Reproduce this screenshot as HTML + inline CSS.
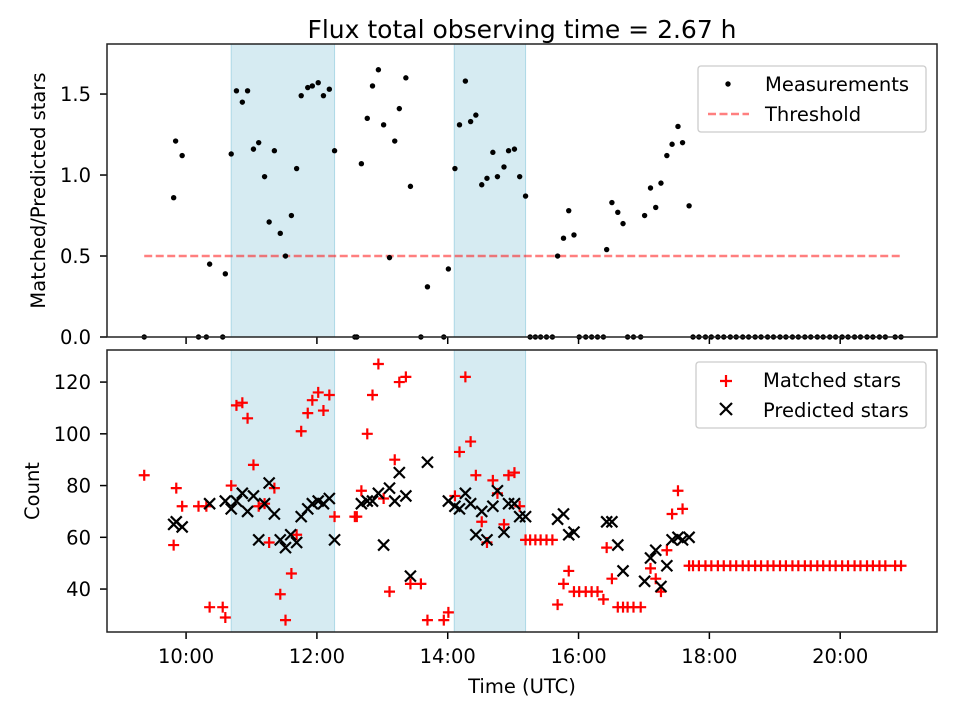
<!DOCTYPE html>
<html><head><meta charset="utf-8"><style>
body{margin:0;background:#fff}
svg{font-family:"DejaVu Sans","Liberation Sans",sans-serif}
</style></head><body>
<svg id="chart" width="960" height="720" viewBox="0 0 960 720" xmlns="http://www.w3.org/2000/svg"></svg>
<script>
// ---- data ----
const ratioTimes=[9.36,9.81,9.84,9.94,10.19,10.31,10.36,10.56,10.60,10.69,10.77,10.86,10.94,11.03,11.11,11.20,11.27,11.35,11.44,11.52,11.61,11.69,11.76,11.86,11.93,12.02,12.10,12.19,12.27,12.58,12.61,12.68,12.77,12.85,12.94,13.02,13.11,13.19,13.26,13.36,13.43,13.59,13.69,13.94,14.01,14.11,14.18,14.27,14.35,14.43,14.52,14.60,14.69,14.76,14.86,14.93,15.02,15.10,15.19,15.26,15.34,15.42,15.51,15.60,15.68,15.77,15.85,15.93,16.01,16.11,16.20,16.29,16.38,16.43,16.51,16.60,16.68,16.75,16.84,16.95,17.01,17.10,17.18,17.26,17.35,17.43,17.52,17.59,17.69,17.75,17.84,17.94,18.03,18.13,18.22,18.32,18.41,18.51,18.60,18.70,18.79,18.89,18.98,19.08,19.17,19.27,19.36,19.46,19.55,19.65,19.74,19.84,19.93,20.03,20.12,20.22,20.31,20.41,20.50,20.60,20.69,20.84,20.93];
const ratioValues=[0,0.86,1.21,1.12,0,0,0.45,0,0.39,1.13,1.52,1.45,1.52,1.16,1.20,0.99,0.71,1.15,0.64,0.50,0.75,1.04,1.49,1.54,1.55,1.57,1.49,1.53,1.15,0,0,1.07,1.35,1.55,1.65,1.31,0.49,1.21,1.41,1.60,0.93,0,0.31,0,0.42,1.04,1.31,1.58,1.33,1.37,0.94,0.98,1.14,0.99,1.05,1.15,1.16,0.99,0.87,0,0,0,0,0,0.50,0.61,0.78,0.63,0,0,0,0,0,0.54,0.83,0.77,0.70,0,0,0,0.75,0.92,0.80,0.95,1.12,1.19,1.30,1.20,0.81,0,0,0,0,0,0,0,0,0,0,0,0,0,0,0,0,0,0,0,0,0,0,0,0,0,0,0,0,0,0,0,0,0,0];
const matchedTimes=[9.36,9.81,9.85,9.94,10.19,10.31,10.36,10.56,10.60,10.69,10.77,10.86,10.94,11.03,11.11,11.20,11.27,11.35,11.44,11.52,11.61,11.69,11.76,11.86,11.93,12.02,12.10,12.19,12.27,12.58,12.61,12.68,12.77,12.85,12.94,13.02,13.11,13.19,13.26,13.36,13.43,13.59,13.69,13.94,14.01,14.11,14.18,14.27,14.35,14.43,14.52,14.60,14.69,14.76,14.86,14.93,15.02,15.10,15.19,15.26,15.34,15.42,15.51,15.60,15.68,15.77,15.85,15.93,16.01,16.11,16.20,16.29,16.38,16.43,16.51,16.60,16.68,16.75,16.84,16.95,17.10,17.18,17.26,17.35,17.43,17.52,17.59,17.69,17.75,17.84,17.94,18.03,18.13,18.22,18.32,18.41,18.51,18.60,18.70,18.79,18.89,18.98,19.08,19.17,19.27,19.36,19.46,19.55,19.65,19.74,19.84,19.93,20.03,20.12,20.22,20.31,20.41,20.50,20.60,20.69,20.84,20.93];
const matchedValues=[84,57,79,72,72,72,33,33,29,80,111,112,106,88,72,73,58,79,38,28,46,61,101,108,113,116,109,115,68,68,68,78,100,115,127,75,39,90,120,122,42,42,28,28,31,76,93,122,97,84,66,58,82,77,65,84,85,72,59,59,59,59,59,59,34,42,47,39,39,39,39,39,36,56,44,33,33,33,33,33,48,44,39,55,69,78,71,49,49,49,49,49,49,49,49,49,49,49,49,49,49,49,49,49,49,49,49,49,49,49,49,49,49,49,49,49,49,49,49,49,49,49,49,49];
const predictedTimes=[9.81,9.85,9.94,10.36,10.60,10.69,10.77,10.86,10.94,11.03,11.11,11.20,11.27,11.35,11.44,11.52,11.60,11.69,11.76,11.86,11.93,12.02,12.10,12.19,12.27,12.68,12.77,12.85,12.94,13.02,13.11,13.19,13.26,13.36,13.43,13.69,14.01,14.11,14.18,14.27,14.35,14.43,14.52,14.60,14.69,14.76,14.86,14.93,15.02,15.10,15.19,15.68,15.77,15.85,15.93,16.43,16.51,16.60,16.68,17.01,17.10,17.18,17.26,17.35,17.43,17.52,17.59,17.69];
const predictedValues=[65,66,64,73,74,71,74,77,70,76,59,73,81,69,59,56,61,58,68,71,73,74,73,75,59,73,74,74,77,57,79,74,85,76,45,89,74,72,71,77,73,61,70,59,72,78,62,73,73,68,68,67,69,61,62,66,66,57,47,43,52,55,41,49,59,60,59,60];
const bands=[[10.69,12.27],[14.10,15.19]];
const threshold=0.5, thrStart=9.36, thrEnd=20.96;
const xTickValues=[10,12,14,16,18,20];
const xTickLabels=["10:00","12:00","14:00","16:00","18:00","20:00"];
const topTicks=[0,0.5,1.0,1.5];
const topTickLabels=["0.0","0.5","1.0","1.5"];
const botTicks=[40,60,80,100,120];
const botTickLabels=["40","60","80","100","120"];

// ---- layout ----
const NS="http://www.w3.org/2000/svg";
const svg=document.getElementById('chart');
const L=107,R=937,T1=44,B1=337,T2=350,B2=632;
const xMin=8.791,xMax=21.48;
const X=h=>L+(h-xMin)/(xMax-xMin)*(R-L);
const Y1=v=>B1-(v-0)/(1.809)*(B1-T1);
const y2Min=23.4,y2Max=132.4;
const Y2=v=>B2-(v-y2Min)/(y2Max-y2Min)*(B2-T2);
const FS=19.5;
function el(tag,attrs,parent){const e=document.createElementNS(NS,tag);for(const k in attrs)e.setAttribute(k,attrs[k]);(parent||svg).appendChild(e);return e;}
function txt(s,attrs,parent){const e=el('text',attrs,parent);e.textContent=s;return e;}

function axesFrame(top,bot,name){
  const g=el('g',{});
  
  
  bands.forEach((b,i)=>{
    const r=el('rect',{x:X(b[0]),y:top,width:X(b[1])-X(b[0]),height:bot-top,fill:'#add8e6','fill-opacity':0.5,stroke:'#add8e6','stroke-width':1},g);
    
    
  });
  xTickValues.forEach(v=>{el('line',{x1:X(v),x2:X(v),y1:bot,y2:bot+7,stroke:'#000','stroke-width':1.5},g);});
  return g;
}
// ---- top axes ----
const gTop=axesFrame(T1,B1,'ratio-axes');
topTicks.forEach((v,i)=>{
  el('line',{x1:L-7,x2:L,y1:Y1(v),y2:Y1(v),stroke:'#000','stroke-width':1.5},gTop);
  const t=txt(topTickLabels[i],{x:L-16,y:Y1(v)+7,'text-anchor':'end','font-size':FS},gTop);
  
  
});
const thr=el('line',{x1:X(thrStart),x2:X(thrEnd),y1:Y1(threshold),y2:Y1(threshold),stroke:'rgba(255,0,0,0.5)','stroke-width':2.5,'stroke-dasharray':'8,3.5'},gTop);


ratioTimes.forEach((t,i)=>{
  const c=el('circle',{cx:X(t),cy:Y1(ratioValues[i]),r:2.7,fill:'#000'},gTop);
  
  
});
el('rect',{x:L,y:T1,width:R-L,height:B1-T1,fill:'none',stroke:'#222','stroke-width':1.5},gTop);
const yl1=txt('Matched/Predicted stars',{x:0,y:0,transform:`translate(45,${(T1+B1)/2}) rotate(-90)`,'text-anchor':'middle','font-size':FS});


const title=txt('Flux total observing time = 2.67 h',{x:(L+R)/2,y:38,'text-anchor':'middle','font-size':25});


// legend top
const lg1=el('g',{});


el('rect',{x:698,y:66,width:228,height:66,rx:3,fill:'#fff','fill-opacity':0.8,stroke:'#ccc','stroke-width':1.3},lg1);
el('circle',{cx:728,cy:84,r:2.7,fill:'#000'},lg1);
txt('Measurements',{x:765,y:91,'font-size':FS},lg1);
el('line',{x1:708,x2:749,y1:114,y2:114,stroke:'rgba(255,0,0,0.5)','stroke-width':2.5,'stroke-dasharray':'8,3.5'},lg1);
txt('Threshold',{x:765,y:121,'font-size':FS},lg1);

// ---- bottom axes ----
const gBot=axesFrame(T2,B2,'count-axes');
botTicks.forEach((v,i)=>{
  el('line',{x1:L-7,x2:L,y1:Y2(v),y2:Y2(v),stroke:'#000','stroke-width':1.5},gBot);
  const t=txt(botTickLabels[i],{x:L-16,y:Y2(v)+7,'text-anchor':'end','font-size':FS},gBot);
  
  
});
xTickValues.forEach((v,i)=>{
  const t=txt(xTickLabels[i],{x:X(v),y:663,'text-anchor':'middle','font-size':FS},gBot);
  
  
});
matchedTimes.forEach((t,i)=>{
  const cx=X(t),cy=Y2(matchedValues[i]),s=5.5;
  const p=el('path',{d:`M${cx-s},${cy}H${cx+s}M${cx},${cy-s}V${cy+s}`,stroke:'#f00','stroke-width':2.2,fill:'none'},gBot);
  
  
});
predictedTimes.forEach((t,i)=>{
  const cx=X(t),cy=Y2(predictedValues[i]),s=5.5;
  const p=el('path',{d:`M${cx-s},${cy-s}L${cx+s},${cy+s}M${cx-s},${cy+s}L${cx+s},${cy-s}`,stroke:'#000','stroke-width':2.2,fill:'none'},gBot);
  
  
});
el('rect',{x:L,y:T2,width:R-L,height:B2-T2,fill:'none',stroke:'#222','stroke-width':1.5},gBot);
const yl2=txt('Count',{x:0,y:0,transform:`translate(39,${(T2+B2)/2}) rotate(-90)`,'text-anchor':'middle','font-size':FS});


const xl=txt('Time (UTC)',{x:(L+R)/2,y:693,'text-anchor':'middle','font-size':FS});


// legend bottom
const lg2=el('g',{});


el('rect',{x:696,y:362,width:230,height:66,rx:3,fill:'#fff','fill-opacity':0.8,stroke:'#ccc','stroke-width':1.3},lg2);
el('path',{d:'M720,381H732M726,375V387',stroke:'#f00','stroke-width':2.2},lg2);
txt('Matched stars',{x:763,y:387,'font-size':FS},lg2);
el('path',{d:'M720,403L732,415M720,415L732,403',stroke:'#000','stroke-width':2.2},lg2);
txt('Predicted stars',{x:763,y:417,'font-size':FS},lg2);
</script>
</body></html>
